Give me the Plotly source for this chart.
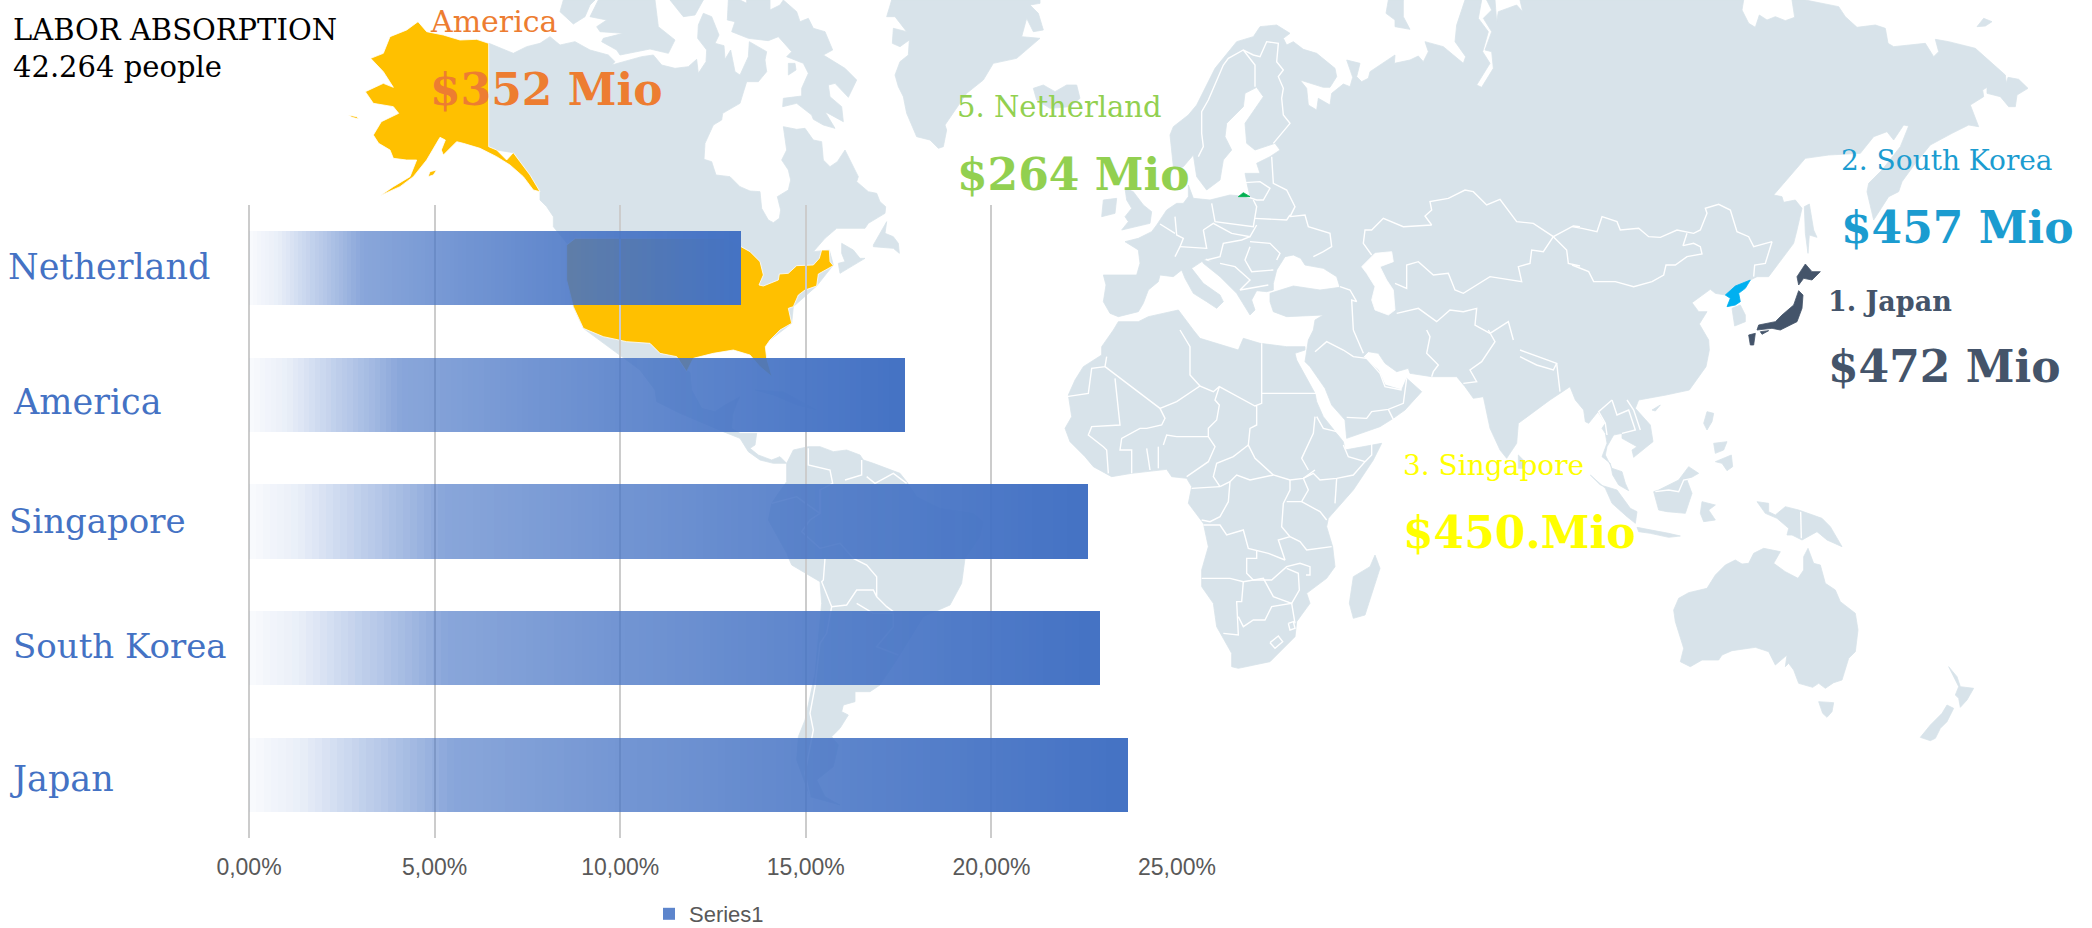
import numpy as np
import plotly.graph_objects as go

W, H = 2092, 928

# ---- chart values -------------------------------------------------------
CATEGORIES = ["Japan", "South Korea", "Singapore", "America", "Netherland"]
VALUES = [23.68, 22.93, 22.60, 17.67, 13.25]
TICK_VALS = [0, 5, 10, 15, 20, 25]
TICK_TEXT = ["0,00%", "5,00%", "10,00%", "15,00%", "20,00%", "25,00%"]
SERIES_NAME = "Series1"
GRAD_POS = [0, .06, .13, .19, .23, .45, .70, 1]
GRAD_ALPHA = [.03, .12, .33, .50, .63, .76, .88, 1]
N_SLICES = 120

# ---- map outlines, as (x, y) in crop coordinates ----
Z1 = (0, 0, 1.5, 3)
Z2 = (1046, 0, 1.5, 3)
Z5 = (540, 0, 3, 3)
Z6 = (1060, 0, 3, 3)
Z7 = (1572, 0, 3, 3)
Z8 = (1060, 330, 3, 3)
Z9 = (1572, 400, 3, 3)
Z10 = (640, 340, 3, 3)


def seg(crop, pts):
    ox, oy, sx, sy = crop
    return [(ox + a / sx, oy + b / sy) for a, b in pts]


NORTH_AMERICA = (
    seg(Z5, [(-153, 130), (-80, 160), (-40, 140), (0, 130), (30, 110), (60, 135), (105, 125), (150, 150), (205, 165),
             (225, 185), (215, 195), (305, 170), (340, 165), (365, 195), (405, 205), (445, 200), (470, 178), (475, 220),
             (498, 185), (500, 150), (473, 115), (475, 75), (490, 40), (515, 50), (537, 105), (525, 130), (552, 137),
             (555, 178), (572, 150), (585, 215), (600, 225), (625, 170), (628, 125), (680, 155), (675, 180), (680, 215),
             (655, 245), (620, 245), (600, 310), (575, 325), (548, 340), (545, 360), (520, 375), (495, 430), (492, 478),
             (515, 485), (528, 525), (570, 530), (600, 560), (630, 573), (660, 575), (665, 625), (685, 660), (700, 668),
             (718, 655), (722, 630), (712, 590), (745, 570), (752, 540), (745, 510), (725, 480), (740, 450), (730, 380),
             (770, 388), (795, 385), (820, 420), (845, 425), (850, 480), (870, 500), (892, 485), (915, 450), (955, 530),
             (950, 545), (985, 575), (1010, 580), (1020, 605), (1037, 620), (1035, 640), (985, 670), (975, 685),
             (890, 685), (855, 715), (820, 755), (868, 750), (880, 795), (830, 858), (760, 920), (755, 970), (690, 1020)])
    + seg(Z1, [(1100, 1030), (1040, 1060), (1030, 1110)])
    + seg(Z10, [(150, 97), (155, 150), (185, 205), (225, 215), (255, 195), (300, 170), (290, 190), (278, 225), (275, 265),
                (300, 280), (350, 280), (345, 315), (330, 325), (355, 345), (395, 360), (420, 350), (440, 370), (400, 370),
                (360, 360), (325, 335), (300, 295), (250, 275), (190, 250), (120, 220), (50, 185), (45, 150), (0, 90)])
    + seg(Z1, [(875, 985), (860, 920), (850, 840), (850, 735)])
    + seg(Z5, [(85, 735), (40, 680), (40, 650), (20, 620), (0, 600)])
    + seg(Z1, [(810, 575), (795, 525), (770, 458), (745, 450), (733, 440)])
)
BANKS_VICTORIA = seg(Z5, [(70, 0), (60, 35), (100, 72), (135, 50), (150, 15), (165, 0)])
ARCTIC_A = seg(Z5, [(175, 0), (150, 50), (200, 60), (170, 80), (180, 95), (250, 100), (190, 115), (185, 125), (230, 150),
                    (240, 165), (330, 147), (385, 160), (405, 120), (355, 80), (345, 0)])
ARCTIC_B = seg(Z5, [(390, 0), (430, 50), (465, 45), (480, 20), (490, 0)])
BAFFIN = seg(Z5, [(565, 0), (562, 60), (585, 65), (575, 95), (625, 115), (685, 122), (715, 110), (755, 155), (740, 170),
                  (790, 190), (805, 220), (785, 265), (785, 288), (730, 295), (728, 320), (770, 310), (815, 345), (820, 358),
                  (850, 375), (885, 385), (855, 335), (910, 365), (905, 320), (870, 290), (865, 255), (885, 250), (925, 292),
                  (950, 240), (915, 205), (850, 165), (878, 150), (855, 95), (820, 85), (805, 55), (780, 65), (770, 35),
                  (730, 0), (720, 15), (690, 30), (690, 0), (620, 0), (620, 10), (600, 0)])
FOXE_ISLAND = seg(Z5, [(745, 190), (765, 190), (768, 210), (745, 225)])
GREENLAND = seg(Z5, [(1055, 0), (1040, 50), (1065, 50), (1100, 95), (1060, 85), (1057, 130), (1080, 140), (1108, 120),
                     (1105, 165), (1080, 185), (1065, 225), (1075, 260), (1090, 290), (1100, 340), (1130, 410), (1170, 420),
                     (1195, 445), (1210, 440), (1220, 390), (1215, 375), (1280, 280), (1330, 240), (1360, 190), (1430, 175),
                     (1500, 115), (1445, 110), (1460, 55), (1480, 95), (1510, 90), (1495, 40), (1470, 15), (1500, 10), (1500, 0)])
ICELAND = seg(Z6, [(-80, 265), (-50, 255), (-15, 275), (20, 255), (50, 255), (60, 295), (30, 320), (-30, 325), (-70, 300)])
NEWFOUNDLAND = seg(Z5, [(1000, 735), (1040, 665), (1035, 700), (1060, 710), (1075, 730), (1078, 760), (1060, 745), (1000, 740)])
MARITIMES = seg(Z5, [(905, 730), (940, 750), (960, 775), (975, 775), (900, 820), (895, 790), (915, 785), (905, 760)])
CUBA = seg(Z10, [(345, 150), (430, 155), (530, 210), (470, 195), (400, 165)])
SOUTH_AMERICA = seg(Z10, [(440, 370), (440, 425), (415, 460), (395, 490), (385, 540), (440, 640), (455, 675), (540, 725),
                          (545, 790), (535, 900), (525, 1000), (495, 1140), (475, 1190), (470, 1260), (510, 1370), (600, 1395),
                          (555, 1370), (530, 1320), (580, 1280), (595, 1215), (575, 1190), (600, 1165), (625, 1125), (605, 1115),
                          (610, 1095), (645, 1085), (645, 1055), (690, 1055), (720, 1035), (770, 960), (850, 830), (930, 795),
                          (965, 730), (975, 655), (1020, 590), (1030, 545), (1000, 520), (900, 505), (830, 470), (800, 425),
                          (780, 400), (700, 370), (670, 360), (660, 345), (620, 330), (580, 335), (540, 320), (505, 320),
                          (460, 330)])
EURASIA = (
    seg(Z6, [(345, 510), (340, 500), (330, 405), (340, 380), (385, 345), (410, 315), (465, 205), (530, 125), (580, 110),
             (600, 80), (650, 75), (690, 100), (670, 115), (680, 135), (700, 125), (730, 148), (770, 160), (825, 205),
             (830, 230), (810, 262), (790, 262), (720, 240), (740, 265), (745, 315), (770, 330), (775, 295), (810, 315),
             (815, 280), (850, 252), (870, 260), (878, 232), (860, 180), (900, 190), (890, 230), (905, 245), (925, 235),
             (930, 215), (1005, 165), (1003, 190), (1050, 180), (1075, 168), (1090, 185), (1105, 155), (1095, 125),
             (1150, 140), (1210, 190), (1217, 170), (1185, 125), (1190, 75), (1215, 0), (1265, 0), (1255, 55), (1285, 95),
             (1268, 155), (1290, 190), (1250, 255), (1265, 262), (1300, 205), (1295, 155), (1275, 150), (1295, 95),
             (1270, 55), (1295, 30), (1280, 0), (1305, 0), (1310, 65), (1315, 35), (1370, 15), (1388, 35), (1380, 0)])
    + seg(Z7, [(515, 0), (510, 30), (530, 70), (550, 82), (562, 45), (585, 60), (610, 50), (640, 62), (668, 52), (660, 0),
               (700, 0), (800, 20), (820, 50), (855, 82), (910, 75), (940, 85), (948, 130), (965, 140), (1060, 130),
               (1085, 170), (1100, 155), (1090, 118), (1130, 125), (1210, 145), (1300, 225), (1303, 250), (1308, 232),
               (1340, 238), (1368, 265), (1335, 285), (1330, 320), (1310, 320), (1285, 290), (1245, 280), (1245, 262),
               (1232, 270), (1235, 290), (1195, 315), (1220, 380), (1190, 375), (1140, 400), (1075, 435), (1030, 490),
               (990, 545), (980, 575), (950, 590), (905, 660), (885, 575), (890, 550), (930, 510), (985, 440), (1010, 378),
               (995, 375), (965, 420), (945, 395), (905, 410), (865, 460), (770, 465), (700, 475), (605, 585), (630, 590),
               (635, 607), (670, 600), (690, 625), (675, 690), (665, 730), (620, 790), (590, 830), (555, 830), (535, 840),
               (460, 885), (430, 880), (415, 868), (360, 908), (380, 935), (405, 935), (382, 972), (410, 1020)])
    + seg(Z2, [(995, 1050), (990, 1100), (965, 1170), (930, 1185)])
    + seg(Z9, [(200, 0), (190, 25), (235, 75), (243, 125), (185, 172), (180, 150), (195, 140), (150, 115), (150, 100),
               (125, 105), (105, 140), (100, 165), (120, 205), (150, 215), (160, 250), (170, 272), (140, 255), (122, 225),
               (115, 190), (90, 170), (105, 130), (100, 100), (90, 85), (100, 70), (78, 35), (50, 70), (40, 65), (35, 30),
               (10, 0)])
    + seg(Z8, [(1530, 170), (1470, 210), (1410, 255), (1375, 280), (1370, 340), (1340, 385), (1320, 360), (1290, 295),
               (1270, 200), (1240, 205), (1215, 170), (1190, 140), (1115, 140), (1050, 130), (1045, 115), (1010, 125),
               (975, 100), (955, 70), (925, 65), (910, 80), (955, 120), (975, 165), (1025, 180), (1040, 145), (1085, 185),
               (1035, 240), (1000, 265), (960, 290), (860, 325), (855, 270), (815, 225), (795, 175), (750, 110), (735, 95),
               (745, 30), (760, 0)])
    + seg(Z6, [(765, 960), (790, 945), (680, 950), (640, 935), (630, 905), (630, 880), (700, 858), (780, 870), (840, 862),
               (830, 830), (790, 805), (735, 795), (722, 775), (700, 765), (675, 770), (650, 810), (640, 850), (640, 870),
               (620, 875), (590, 872), (575, 900), (585, 930), (570, 945), (545, 905), (530, 880), (480, 830), (430, 790),
               (425, 780), (455, 785), (440, 775), (395, 805), (365, 810), (340, 830), (300, 825), (295, 845), (265, 870),
               (250, 910), (235, 935), (175, 950), (150, 940), (130, 905), (138, 855), (130, 825), (230, 825), (240, 790),
               (235, 750), (195, 725), (235, 715), (275, 695), (290, 675), (320, 630), (350, 610), (370, 610), (385, 590),
               (385, 555), (400, 595), (450, 600), (510, 585), (570, 590), (560, 545), (555, 520), (600, 520), (590, 490),
               (630, 470), (660, 450), (645, 430), (585, 450), (560, 430), (555, 370), (610, 290), (590, 262), (555, 280),
               (550, 320), (500, 370), (495, 410), (515, 450), (490, 480), (480, 540), (455, 560), (440, 570), (410, 530),
               (400, 465), (370, 500)])
)
NOVAYA_ZEMLYA = seg(Z6, [(985, 0), (978, 40), (1005, 60), (1005, 80), (1050, 88), (1030, 50), (1030, 0)])
BRITAIN = seg(Z6, [(195, 565), (220, 575), (250, 615), (275, 635), (270, 670), (185, 690), (205, 665), (195, 650), (215, 625), (200, 600)])
IRELAND = seg(Z6, [(130, 600), (170, 595), (165, 640), (125, 650)])
ITALY = seg(Z6, [(365, 810), (395, 805), (430, 850), (480, 885), (490, 905), (470, 925), (440, 905), (400, 880), (375, 835)])
AFRICA = (
    seg(Z8, [(160, 0), (125, 50), (125, 75), (70, 110), (45, 150), (25, 195), (35, 260), (15, 295), (30, 335), (75, 380),
             (100, 410), (155, 440), (215, 430), (320, 418), (335, 440), (380, 445), (395, 470), (385, 520), (430, 580),
             (445, 650), (425, 720), (425, 770), (460, 820), (470, 890), (515, 970), (515, 1010), (535, 1015), (630, 995),
             (705, 920), (710, 875), (750, 820), (740, 790), (800, 745), (825, 710), (818, 650), (800, 590), (805, 565),
             (880, 480), (940, 390), (965, 340), (855, 360), (850, 335), (790, 260), (770, 215), (765, 190), (710, 90),
             (705, 70), (735, 60), (735, 50), (680, 50), (600, 40), (550, 25), (535, 60), (470, 40), (420, 25), (400, 0)])
    + seg(Z6, [(370, 950), (355, 930), (265, 950), (235, 965), (175, 965)])
)
MADAGASCAR = seg(Z8, [(945, 675), (960, 715), (915, 855), (880, 865), (868, 820), (880, 740), (930, 710)])
SRI_LANKA = seg(Z8, [(1375, 375), (1395, 395), (1395, 415), (1375, 415)])
SAKHALIN = seg(Z7, [(697, 620), (712, 612), (725, 690), (735, 712), (712, 705), (708, 760), (700, 700)])
SIBERIAN_ISLE = seg(Z7, [(1215, 80), (1235, 55), (1260, 65), (1240, 78)])
SOUTH_KOREA = seg(Z7, [(480, 925), (505, 915), (520, 945), (520, 965), (488, 978)])
SUMATRA = seg(Z9, [(55, 225), (85, 255), (135, 270), (175, 325), (195, 335), (190, 370), (165, 350), (120, 310), (100, 265)])
JAVA = seg(Z9, [(195, 382), (240, 390), (290, 400), (325, 408), (290, 412), (235, 400), (200, 395)])
BORNEO = seg(Z9, [(245, 275), (260, 270), (320, 240), (350, 200), (380, 220), (345, 240), (360, 280), (340, 340), (285, 335), (260, 330)])
SULAWESI = seg(Z9, [(390, 305), (430, 315), (410, 330), (430, 360), (395, 365), (385, 340)])
LUZON = seg(Z9, [(405, 35), (425, 40), (420, 65), (405, 90), (395, 70)])
MINDANAO = seg(Z9, [(430, 185), (478, 165), (482, 200), (465, 212), (450, 190)])
VISAYAS = seg(Z9, [(425, 130), (465, 125), (455, 150), (430, 160)])
HAINAN = seg(Z9, [(240, 30), (265, 15), (250, 33)])
NEW_GUINEA = seg(Z9, [(555, 305), (590, 310), (590, 335), (610, 345), (640, 320), (680, 330), (750, 355), (775, 380), (810, 440),
                      (765, 420), (735, 395), (690, 420), (660, 405), (645, 405), (650, 385), (615, 355), (580, 340)])
AUSTRALIA = seg(Z9, [(305, 630), (320, 595), (350, 578), (405, 565), (430, 525), (460, 495), (490, 480), (510, 492), (530, 490),
                     (545, 460), (575, 445), (625, 455), (605, 490), (640, 515), (678, 535), (695, 510), (695, 470), (708, 445),
                     (725, 490), (745, 495), (760, 550), (790, 570), (805, 605), (850, 640), (858, 690), (850, 755), (830, 775),
                     (810, 840), (785, 848), (760, 865), (740, 850), (722, 862), (680, 850), (665, 810), (650, 790), (640, 800),
                     (645, 765), (610, 795), (590, 755), (550, 742), (480, 752), (450, 765), (440, 780), (390, 780), (355, 800),
                     (325, 785), (335, 745), (310, 665)])
TASMANIA = seg(Z9, [(740, 905), (785, 908), (780, 935), (765, 952), (752, 940)])
NZ_SOUTH = seg(Z9, [(1045, 1012), (1075, 975), (1110, 940), (1125, 915), (1145, 925), (1125, 965), (1105, 985), (1090, 1015), (1075, 1022)])
NZ_NORTH = seg(Z9, [(1130, 800), (1155, 830), (1165, 860), (1205, 865), (1185, 900), (1165, 922), (1160, 895), (1150, 885), (1160, 860)])
LAND = [NORTH_AMERICA, BANKS_VICTORIA, ARCTIC_A, ARCTIC_B, BAFFIN, FOXE_ISLAND, GREENLAND, ICELAND, NEWFOUNDLAND, MARITIMES,
        CUBA, SOUTH_AMERICA, EURASIA, NOVAYA_ZEMLYA, BRITAIN, IRELAND, ITALY, AFRICA, MADAGASCAR, SRI_LANKA, SAKHALIN,
        SIBERIAN_ISLE, SOUTH_KOREA, SUMATRA, JAVA, BORNEO, SULAWESI, LUZON, MINDANAO, VISAYAS, HAINAN, NEW_GUINEA, AUSTRALIA,
        TASMANIA, NZ_SOUTH, NZ_NORTH]
CASPIAN = seg(Z6, [(905, 800), (945, 760), (995, 755), (1000, 785), (960, 800), (980, 840), (1000, 870), (1005, 930), (985, 945),
                   (945, 930), (935, 900), (945, 860), (920, 820)])

USA_MAIN = (
    seg(Z1, [(863, 715), (1090, 715)])
    + seg(Z5, [(603, 740), (630, 755), (660, 785), (670, 825), (657, 855), (670, 858), (715, 840), (718, 822), (745, 820),
               (770, 797), (820, 795), (838, 775), (845, 750), (868, 750), (870, 785), (880, 797), (835, 822), (830, 858),
               (795, 870), (775, 885), (760, 920), (745, 925), (755, 970), (720, 990), (690, 1020)])
    + seg(Z1, [(1148, 1040), (1150, 1075), (1158, 1130), (1140, 1100), (1125, 1065), (1100, 1050), (1070, 1060), (1040, 1075),
               (1030, 1115), (1015, 1070), (990, 1060), (975, 1030), (940, 1025), (905, 1010), (875, 985), (860, 920), (850, 840),
               (850, 735)])
)
ALASKA = seg(Z1, [(627, 65), (640, 95), (665, 105), (690, 120), (715, 118), (733, 130), (733, 440), (745, 450), (760, 480), (770, 458),
                  (780, 485), (795, 525), (810, 575), (800, 570), (785, 530), (765, 495), (745, 470), (720, 445), (695, 430), (685, 425),
                  (665, 465), (662, 450), (668, 420), (660, 412), (640, 480), (620, 530), (600, 560), (570, 587), (590, 560), (615, 530),
                  (625, 480), (610, 480), (590, 475), (585, 450), (568, 430), (560, 405), (572, 365), (598, 340), (590, 320), (560, 310),
                  (548, 275), (575, 250), (590, 262), (575, 215), (556, 175), (575, 160), (585, 110), (610, 90)])
ALASKA_ISLE_A = seg(Z1, [(522, 345), (535, 350), (538, 357), (528, 352)])
ALASKA_ISLE_B = seg(Z1, [(645, 515), (655, 510), (650, 525), (642, 530)])
NORTH_KOREA = seg(Z7, [(535, 840), (510, 850), (490, 858), (460, 885), (475, 895), (465, 920), (490, 915), (505, 905), (500, 880), (520, 865)])
HOKKAIDO = seg(Z7, [(700, 792), (720, 815), (745, 815), (720, 840), (695, 835), (680, 855), (675, 830)])
HONSHU = seg(Z7, [(680, 872), (693, 885), (690, 925), (675, 965), (625, 990), (600, 985), (555, 990), (560, 975), (610, 965), (630, 945), (665, 915)])
KYUSHU = seg(Z7, [(530, 1005), (550, 1000), (545, 1035), (535, 1035)])
SHIKOKU = seg(Z7, [(565, 995), (590, 992), (570, 1003)])
KALININGRAD = seg(Z6, [(535, 590), (550, 578), (570, 590)])

BORDERS = [
    seg(Z7, [(0, 680), (30, 685), (75, 695), (90, 650), (135, 665), (145, 690), (200, 685), (230, 710), (265, 712), (315, 690), (365, 700),
             (385, 690), (405, 640), (400, 625), (440, 613), (475, 630), (495, 695), (530, 710), (545, 740), (600, 725), (580, 790), (548, 795), (545, 830)]),
    seg(Z7, [(0, 795), (50, 815), (65, 845), (130, 845), (185, 860), (240, 845), (275, 825), (282, 795), (310, 795), (345, 770), (390, 762),
             (385, 740), (365, 730), (333, 737), (345, 700)]),
    seg(Z6, [(1560, 680), (1540, 678), (1480, 710), (1420, 670), (1370, 665), (1320, 598), (1280, 615), (1240, 575), (1215, 570), (1165, 595),
             (1110, 605), (1115, 630), (1095, 648), (1115, 675), (1030, 680), (970, 655), (935, 690), (915, 690), (910, 730), (935, 765)]),
    seg(Z6, [(1480, 710), (1450, 755), (1415, 750), (1410, 790), (1375, 800), (1385, 845), (1290, 830), (1210, 880), (1185, 870), (1165, 820),
             (1120, 825), (1075, 785), (1040, 795), (1040, 865), (1005, 850)]),
    seg(Z6, [(1480, 710), (1520, 750), (1525, 790), (1560, 798)]),
    seg(Z6, [(1010, 940), (1075, 925), (1130, 965), (1170, 930), (1210, 935), (1250, 925), (1245, 975), (1290, 1000), (1345, 965), (1360, 1020)]),
    seg(Z6, [(640, 430), (690, 370), (670, 345), (665, 295), (670, 265), (655, 230), (670, 210), (650, 185), (655, 130), (620, 125), (600, 170),
             (580, 165), (550, 150), (505, 175), (490, 195), (445, 300), (425, 335), (425, 400), (430, 440), (415, 470)]),
    seg(Z6, [(550, 150), (585, 195), (585, 260)]),
    seg(Z6, [(555, 548), (600, 545), (630, 565), (610, 600), (590, 600), (560, 590)]),
    seg(Z6, [(635, 470), (640, 550), (680, 570), (705, 620), (690, 650), (735, 645), (745, 680), (810, 700), (815, 740), (790, 755), (760, 770)]),
    seg(Z6, [(585, 655), (680, 660), (690, 645)]),
    seg(Z6, [(455, 610), (465, 665), (580, 680), (590, 620), (580, 600)]),
    seg(Z6, [(430, 690), (460, 670), (515, 700), (570, 710), (590, 675)]),
    seg(Z6, [(570, 725), (630, 730), (660, 760), (650, 780)]),
    seg(Z6, [(345, 650), (350, 705), (370, 715), (360, 740), (345, 770)]),
    seg(Z6, [(300, 672), (345, 700)]),
    seg(Z6, [(360, 740), (440, 745), (430, 690)]),
    seg(Z6, [(570, 710), (545, 720), (490, 730), (480, 770), (440, 780)]),
    seg(Z6, [(570, 740), (555, 780), (575, 815), (640, 810)]),
    seg(Z6, [(480, 790), (525, 800), (570, 840), (540, 870), (625, 855)]),
    seg(Z6, [(840, 860), (870, 870), (890, 905), (875, 900), (880, 990)]),
    seg(Z8, [(135, 110), (300, 235), (350, 215), (420, 168), (460, 185), (478, 170), (585, 228), (605, 220), (605, 40)]),
    seg(Z8, [(605, 190), (768, 190)]),
    seg(Z8, [(420, 168), (390, 135), (390, 50), (360, 0)]),
    seg(Z8, [(140, 80), (135, 110), (95, 115), (85, 190), (20, 200)]),
    seg(Z8, [(165, 145), (180, 285), (95, 290), (85, 315), (130, 350), (140, 360), (145, 430)]),
    seg(Z8, [(300, 235), (315, 265), (305, 285), (260, 295), (240, 295), (185, 325), (180, 360), (215, 360), (215, 430)]),
    seg(Z8, [(260, 355), (270, 420)]),
    seg(Z8, [(295, 350), (295, 415)]),
    seg(Z8, [(310, 345), (320, 315), (350, 320), (445, 320), (465, 350), (445, 395), (380, 440)]),
    seg(Z8, [(478, 170), (465, 210), (478, 225), (470, 270), (445, 295), (445, 320)]),
    seg(Z8, [(590, 228), (590, 285), (570, 295), (565, 345), (585, 385), (640, 435), (690, 450), (730, 445), (765, 420)]),
    seg(Z8, [(565, 345), (520, 380), (470, 400), (460, 440), (480, 470)]),
    seg(Z8, [(480, 470), (395, 475)]),
    seg(Z8, [(480, 470), (510, 455), (530, 435), (570, 450), (640, 435)]),
    seg(Z8, [(510, 455), (505, 515), (480, 560), (450, 575), (425, 570)]),
    seg(Z8, [(690, 450), (690, 480), (670, 520), (665, 590), (690, 620), (720, 635), (740, 660), (815, 650)]),
    seg(Z8, [(730, 445), (745, 480), (725, 515), (680, 515)]),
    seg(Z8, [(725, 515), (780, 545), (800, 570)]),
    seg(Z8, [(765, 260), (760, 310), (725, 385), (745, 420)]),
    seg(Z8, [(770, 260), (790, 295), (830, 305), (855, 330)]),
    seg(Z8, [(850, 345), (865, 380), (915, 395), (880, 435), (830, 445), (780, 450), (760, 430), (730, 445)]),
    seg(Z8, [(915, 395), (935, 375), (935, 340)]),
    seg(Z8, [(830, 445), (825, 520)]),
    seg(Z8, [(430, 585), (480, 585), (500, 615), (550, 600), (565, 655), (625, 670), (675, 690), (655, 630), (690, 620)]),
    seg(Z8, [(590, 660), (590, 685), (560, 685), (560, 730), (580, 750), (635, 750), (680, 710), (720, 700), (750, 710), (750, 735), (738, 735)]),
    seg(Z8, [(425, 745), (510, 745), (550, 755), (610, 745), (640, 800), (695, 820), (718, 780), (715, 730), (680, 715)]),
    seg(Z8, [(550, 755), (545, 815), (530, 815), (535, 915), (490, 910)]),
    seg(Z8, [(535, 860), (550, 890), (580, 870), (615, 870), (635, 830), (695, 820), (705, 880)]),
    seg(Z8, [(630, 938), (655, 918), (668, 935), (645, 955), (630, 938)]),
    seg(Z8, [(685, 880), (700, 875), (705, 895), (690, 900), (685, 880)]),
    seg(Z8, [(765, 65), (800, 35), (850, 60), (880, 80), (920, 85), (960, 130), (975, 170), (1025, 180)]),
    seg(Z8, [(860, 262), (920, 265), (935, 245), (985, 238), (1030, 220), (1040, 145)]),
    seg(Z8, [(985, 238), (1000, 268)]),
    seg(Z8, [(910, 70), (890, 20), (880, 0)]),
    seg(Z8, [(1115, 140), (1120, 125), (1135, 105), (1100, 70), (1110, 20), (1100, 0)]),
    seg(Z8, [(1210, 160), (1250, 155), (1230, 120), (1265, 95), (1305, 35), (1285, 0)]),
    seg(Z8, [(1490, 100), (1500, 185)]),
    seg(Z8, [(1380, 80), (1430, 105), (1480, 120), (1490, 100), (1380, 60)]),
    seg(Z9, [(120, 0), (80, 35), (100, 70), (105, 105)]),
    seg(Z9, [(120, 0), (135, 45), (170, 30), (190, 90), (150, 100)]),
    seg(Z9, [(205, 90), (185, 30), (165, 0)]),
    seg(Z9, [(250, 275), (290, 270), (320, 275), (335, 240), (360, 235)]),
    seg(Z9, [(686, 335), (688, 415)]),
    seg(Z10, [(505, 325), (505, 375), (570, 390), (578, 430), (540, 450), (540, 520), (510, 540), (485, 575), (540, 625), (600, 610), (640, 655),
              (680, 675), (710, 710), (710, 770), (740, 800), (760, 815)]),
    seg(Z10, [(665, 360), (665, 405), (615, 420)]),
    seg(Z10, [(680, 410), (705, 430), (760, 400), (800, 430)]),
    seg(Z10, [(395, 490), (470, 470), (490, 485), (540, 520)]),
    seg(Z10, [(555, 655), (550, 720), (545, 725), (575, 800), (620, 795), (650, 750), (700, 750), (710, 770)]),
    seg(Z10, [(575, 800), (560, 880), (540, 910), (525, 1040), (510, 1120), (520, 1170), (495, 1300), (510, 1370)]),
    seg(Z10, [(650, 790), (700, 820), (760, 820), (760, 860), (710, 920), (775, 945)]),
]

# ---- text, (text, left px, centre px, size, colour, bold) -------------------
SLAB = "DejaVu Serif"
TEXTS = [
    ("LABOR ABSORPTION", 13, 30, 29, "#000000", False),
    ("42.264 people", 13, 67, 29, "#000000", False),
    ("America", 430, 22, 30, "#ED7D31", False),
    ("$352 Mio", 430, 89, 44, "#ED7D31", True),
    ("5. Netherland", 957, 107, 29, "#92D050", False),
    ("$264 Mio", 957, 174, 44, "#92D050", True),
    ("2. South Korea", 1841, 160, 28, "#1B9CD0", False),
    ("$457 Mio", 1841, 227, 44, "#1B9CD0", True),
    ("1. Japan", 1828, 301, 27, "#44546A", True),
    ("$472 Mio", 1828, 366, 44, "#44546A", True),
    ("3. Singapore", 1403, 465, 28, "#FFFF00", False),
    ("$450.Mio", 1403, 532, 44, "#FFFF00", True),
    ("Netherland", 8, 267, 35, "#4472C4", False),
    ("America", 13, 402, 35, "#4472C4", False),
    ("Singapore", 9, 521, 34, "#4472C4", False),
    ("South Korea", 13, 646, 34, "#4472C4", False),
    ("Japan", 10, 779, 35, "#4472C4", False),
]


def poly_trace(polys, colour, line=None):
    xs, ys = [], []
    for p in polys:
        xs += [q[0] for q in p] + [p[0][0], None]
        ys += [q[1] for q in p] + [p[0][1], None]
    return go.Scatter(x=xs, y=ys, mode="lines", fill="toself", fillcolor=colour,
                      line=dict(width=0.8, color=line or colour), hoverinfo="skip", showlegend=False,
                      xaxis="x", yaxis="y")


fig = go.Figure()
fig.add_trace(poly_trace(LAND, "#d8e3ea"))
fig.add_trace(poly_trace([CASPIAN], "#ffffff"))
bx, by = [], []
for b in BORDERS:
    bx += [q[0] for q in b] + [None]
    by += [q[1] for q in b] + [None]
fig.add_trace(go.Scatter(x=bx, y=by, mode="lines", line=dict(color="#ffffff", width=1.4),
                         hoverinfo="skip", showlegend=False, xaxis="x", yaxis="y"))
fig.add_trace(poly_trace([USA_MAIN, ALASKA, ALASKA_ISLE_A, ALASKA_ISLE_B], "#FFC000", line="#ffffff"))
fig.add_trace(poly_trace([NORTH_KOREA], "#00B0F0"))
fig.add_trace(poly_trace([HOKKAIDO, HONSHU, KYUSHU, SHIKOKU], "#44546A"))
fig.add_trace(poly_trace([KALININGRAD], "#00B050"))

# The bars: each value is cut into equal pieces so the fade can run along it
for i in range(N_SLICES):
    t = (i + 0.5) / N_SLICES
    a = float(np.interp(t, GRAD_POS, GRAD_ALPHA))
    fig.add_trace(go.Bar(
        y=CATEGORIES, x=[v / N_SLICES for v in VALUES], orientation="h",
        marker=dict(color=f"rgba(68,114,196,{a:.3f})", line=dict(width=0)),
        name=SERIES_NAME, showlegend=(i == N_SLICES * 2 // 3), hoverinfo="skip",
        xaxis="x2", yaxis="y2"))

ann = [dict(text=(f"<b>{t}</b>" if b else t), x=px / W, y=1 - py / H, xref="paper", yref="paper",
            xanchor="left", yanchor="middle", showarrow=False, borderpad=0, borderwidth=0,
            font=dict(family=SLAB, size=s, color=c))
       for t, px, py, s, c, b in TEXTS]

fig.update_layout(
    width=W, height=H, margin=dict(l=0, r=0, t=0, b=0, autoexpand=False), autosize=False,
    paper_bgcolor="white", plot_bgcolor="rgba(0,0,0,0)",
    barmode="stack", bargap=0.415, annotations=ann,
    xaxis=dict(domain=[0, 1], range=[0, W], visible=False, fixedrange=True),
    yaxis=dict(domain=[0, 1], range=[H, 0], visible=False, fixedrange=True),
    xaxis2=dict(domain=[249 / W, 1177 / W], range=[0, 25], anchor="y2", tickvals=TICK_VALS, ticktext=TICK_TEXT,
                showgrid=True, gridcolor="#cccccc", gridwidth=2, showline=False, ticks="",
                zeroline=True, zerolinecolor="#cccccc", zerolinewidth=2,
                tickfont=dict(family="Liberation Sans", size=23, color="#595959"), ticklabelstandoff=13),
    yaxis2=dict(domain=[1 - 838 / H, 1 - 205 / H], anchor="x2", type="category", categoryorder="array",
                categoryarray=CATEGORIES, showticklabels=False, showgrid=False, zeroline=False, showline=False, ticks=""),
    legend=dict(x=649 / W, y=1 - 914 / H, xanchor="left", yanchor="middle", bgcolor="rgba(0,0,0,0)",
                font=dict(family="Liberation Sans", size=22, color="#595959")),
    showlegend=True,
)
fig.write_html("out.html", config=dict(displayModeBar=False),
               post_script="document.body.style.margin='0';document.documentElement.style.overflow='hidden';")
